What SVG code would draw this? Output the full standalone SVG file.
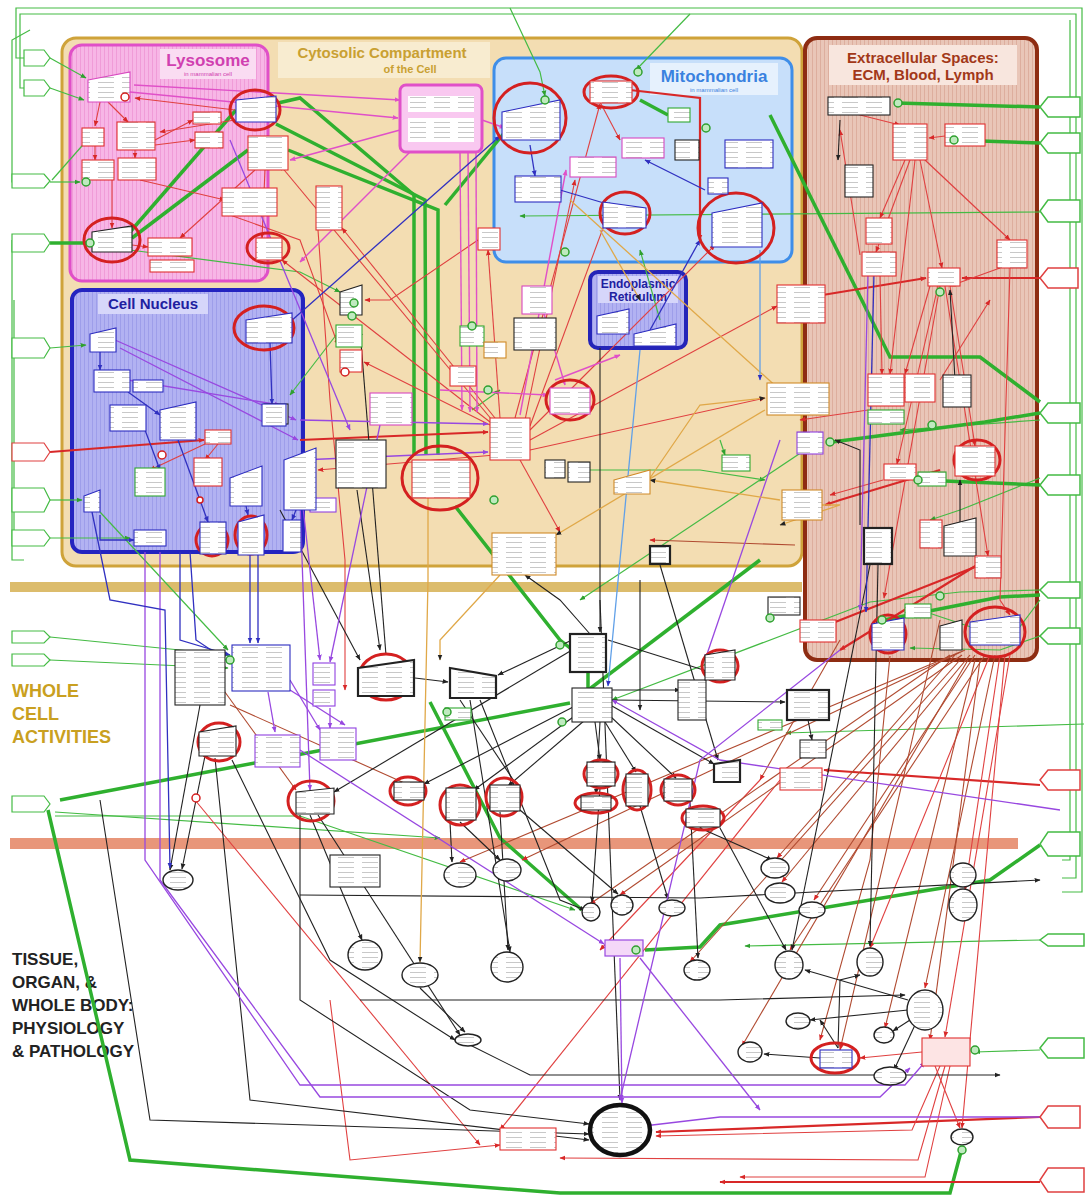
<svg xmlns="http://www.w3.org/2000/svg" width="1089" height="1203" viewBox="0 0 1089 1203">
<defs>
<style>
.t{font-family:"Liberation Sans",Arial,sans-serif;font-weight:bold}
.s{font-family:"Liberation Sans",Arial,sans-serif;font-size:6px}
.n{fill:url(#tx);stroke-width:1.1}
.nk{stroke:#222}.nr{stroke:#e03030}.nm{stroke:#d848c0}.nb{stroke:#2c2cc0}.ng{stroke:#30a830}.np{stroke:#9040e0}.no{stroke:#d08a28}.nl{stroke:#3a8ee8}
.th{stroke-width:2.2}
.hl{fill:none;stroke:#d42020;stroke-width:3}
.el{fill:url(#tx);stroke:#222;stroke-width:1.4}
.cn path{fill:none}
.G{stroke:#2fb02f;stroke-width:3.5}
.g{stroke:#44bb44;stroke-width:1.2;marker-end:url(#ag)}
.gb{stroke:#44bb44;stroke-width:1.2}
.R{stroke:#d82828;stroke-width:2.2;marker-end:url(#ar)}
.r{stroke:#e04040;stroke-width:1.1;marker-end:url(#ar)}
.d{stroke:#b04a30;stroke-width:1.1;marker-end:url(#ar)}
.m{stroke:#e050c8;stroke-width:1.4;marker-end:url(#am)}
.p{stroke:#9848e0;stroke-width:1.3;marker-end:url(#ap)}
.b{stroke:#3030c0;stroke-width:1.3;marker-end:url(#ab)}
.k{stroke:#222;stroke-width:1.1;marker-end:url(#ak)}
.o{stroke:#e0a848;stroke-width:1.3;marker-end:url(#ak)}
.lb{stroke:#60a0e8;stroke-width:1.3;marker-end:url(#ab)}
.gm{fill:#bfeabf;stroke:#2fa02f;stroke-width:1.5}
.rm{fill:#fff;stroke:#d42020;stroke-width:1.5}
</style>
<pattern id="tx" width="24" height="5" patternUnits="userSpaceOnUse"><rect width="24" height="5" fill="#fff"/><rect x="2" y="2" width="16" height="1" fill="#c8c8c8"/></pattern>
<pattern id="ly" width="4" height="10" patternUnits="userSpaceOnUse"><rect width="4" height="10" fill="#f7b6e6"/><rect width="1" height="10" fill="#f09cd8"/></pattern>
<pattern id="nu" width="4" height="10" patternUnits="userSpaceOnUse"><rect width="4" height="10" fill="#b2b2f2"/><rect width="1" height="10" fill="#9e9eea"/></pattern>
<pattern id="ec" width="4" height="10" patternUnits="userSpaceOnUse"><rect width="4" height="10" fill="#e9c6b8"/><rect width="1" height="10" fill="#ddae9e"/></pattern>
<marker id="ak" viewBox="0 0 10 10" refX="9" refY="5" markerWidth="6" markerHeight="6" markerUnits="userSpaceOnUse" orient="auto"><path d="M0,1L10,5L0,9z" fill="#222"/></marker>
<marker id="ar" viewBox="0 0 10 10" refX="9" refY="5" markerWidth="6" markerHeight="6" markerUnits="userSpaceOnUse" orient="auto"><path d="M0,1L10,5L0,9z" fill="#d82828"/></marker>
<marker id="ag" viewBox="0 0 10 10" refX="9" refY="5" markerWidth="6" markerHeight="6" markerUnits="userSpaceOnUse" orient="auto"><path d="M0,1L10,5L0,9z" fill="#2fa02f"/></marker>
<marker id="am" viewBox="0 0 10 10" refX="9" refY="5" markerWidth="6" markerHeight="6" markerUnits="userSpaceOnUse" orient="auto"><path d="M0,1L10,5L0,9z" fill="#e050c8"/></marker>
<marker id="ap" viewBox="0 0 10 10" refX="9" refY="5" markerWidth="6" markerHeight="6" markerUnits="userSpaceOnUse" orient="auto"><path d="M0,1L10,5L0,9z" fill="#9848e0"/></marker>
<marker id="ab" viewBox="0 0 10 10" refX="9" refY="5" markerWidth="6" markerHeight="6" markerUnits="userSpaceOnUse" orient="auto"><path d="M0,1L10,5L0,9z" fill="#3030c0"/></marker>
</defs>
<rect width="1089" height="1203" fill="#fff"/>

<!-- compartments -->
<g id="cytosol"><rect x="62" y="38" width="740" height="528" rx="14" fill="#f3ddb2" stroke="#cfa33a" stroke-width="3"/>
<rect x="278" y="42" width="212" height="36" fill="#f8ecd0"/>
<text class="t" x="382" y="58" font-size="15" fill="#c9a032" text-anchor="middle">Cytosolic  Compartment</text>
<text class="t" x="410" y="73" font-size="11" fill="#c9a032" text-anchor="middle">of the Cell</text></g>
<g id="lysosome"><rect x="70" y="45" width="198" height="236" rx="12" fill="url(#ly)" stroke="#e050c8" stroke-width="3"/>
<rect x="160" y="49" width="96" height="30" fill="#fadcf2"/>
<text class="t" x="208" y="66" font-size="17" fill="#d040b0" text-anchor="middle">Lysosome</text>
<text class="s" x="208" y="76" fill="#d040b0" text-anchor="middle">in mammalian cell</text></g>
<g id="mito"><rect x="494" y="58" width="298" height="204" rx="12" fill="#c7dffa" stroke="#3f8ee8" stroke-width="3"/>
<rect x="650" y="63" width="128" height="32" fill="#e6f1fd"/>
<text class="t" x="714" y="82" font-size="17" fill="#3a82e0" text-anchor="middle">Mitochondria</text>
<text class="s" x="714" y="92" fill="#3a82e0" text-anchor="middle">in mammalian cell</text></g>
<g id="nucleus"><rect x="72" y="290" width="231" height="262" rx="10" fill="url(#nu)" stroke="#2424c0" stroke-width="4"/>
<rect x="98" y="294" width="110" height="20" fill="#d6d6fa"/>
<text class="t" x="153" y="309" font-size="15" fill="#2020a0" text-anchor="middle">Cell Nucleus</text></g>
<g id="er"><rect x="590" y="272" width="96" height="76" rx="8" fill="url(#nu)" stroke="#2424b8" stroke-width="4"/>
<rect x="598" y="276" width="80" height="27" fill="#d6d6fa"/>
<text class="t" x="638" y="288" font-size="12" fill="#2020a0" text-anchor="middle">Endoplasmic</text>
<text class="t" x="638" y="301" font-size="12" fill="#2020a0" text-anchor="middle">Reticulum</text></g>
<g id="ecm"><rect x="805" y="38" width="232" height="622" rx="12" fill="url(#ec)" stroke="#8e2c12" stroke-width="4"/>
<rect x="829" y="45" width="188" height="40" fill="#f8e6de"/>
<text class="t" x="923" y="63" font-size="15" fill="#a23818" text-anchor="middle">Extracellular Spaces:</text>
<text class="t" x="923" y="80" font-size="15" fill="#a23818" text-anchor="middle">ECM, Blood, Lymph</text></g>

<rect x="10" y="582" width="792" height="10" fill="#dcbc6c"/>
<rect x="10" y="838" width="1008" height="11" fill="#e8967a"/>
<text class="t" font-size="18" fill="#c9a020"><tspan x="12" y="697">WHOLE</tspan><tspan x="12" y="720">CELL</tspan><tspan x="12" y="743">ACTIVITIES</tspan></text>
<text class="t" font-size="17" fill="#222"><tspan x="12" y="965">TISSUE,</tspan><tspan x="12" y="988">ORGAN, &amp;</tspan><tspan x="12" y="1011">WHOLE BODY:</tspan><tspan x="12" y="1034">PHYSIOLOGY</tspan><tspan x="12" y="1057">&amp; PATHOLOGY</tspan></text>

<!-- connectors -->
<g id="connectors" class="cn">
<path class="gb" d="M24,58 L16,58 L16,8 L1082,8 L1082,892 L1062,892"/>
<path class="gb" d="M24,88 L20,88 L20,14 L1076,14 L1076,878 L1062,878"/>
<path class="gb" d="M1070,20 L1070,860 L1062,860"/>
<path class="gb" d="M24,182 L12,182 L12,40 L30,30"/>
<path class="gb" d="M12,240 L12,560 L24,560"/>
<path class="gb" d="M14,300 L14,530"/>
<path class="g" d="M50,58 L86,78"/>
<path class="g" d="M50,88 L84,100"/>
<path class="g" d="M50,182 L80,182"/>
<path class="g" d="M52,180 L96,130"/>
<path class="g" d="M50,348 L86,345"/>
<path class="g" d="M50,500 L82,500"/>
<path class="g" d="M50,538 L130,538"/>
<path class="g" d="M50,637 L230,655"/>
<path class="g" d="M50,660 L228,668"/>
<path class="g" d="M510,8 L540,72 L545,96"/>
<path class="g" d="M690,14 L636,70"/>
<path class="g" d="M1040,212 L520,216"/>
<path class="g" d="M1084,724 L786,733"/>
<path class="g" d="M1040,940 L745,946"/>
<path class="g" d="M1040,636 L1000,650 L910,648"/>
<path class="g" d="M1040,590 L960,592 L870,602 L612,700"/>
<path class="g" d="M55,812 L440,838"/>
<path class="g" d="M55,816 L300,816 L575,910"/>
<path class="g" d="M100,512 L228,650"/>
<path class="g" d="M130,250 L300,272 L340,292"/>
<path class="g" d="M580,470 L700,470 L765,480"/>
<path class="g" d="M1040,420 L900,430"/>
<path class="g" d="M1040,478 L960,510 L930,520"/>
<path class="g" d="M1040,600 L1010,640 L920,610"/>
<path class="g" d="M660,320 L640,250"/>
<path class="g" d="M472,410 L500,390"/>
<path class="g" d="M340,330 L290,395"/>
<path class="g" d="M1040,1050 L975,1052"/>
<path class="g" d="M720,440 L725,455"/>
<path class="g" d="M820,440 L580,600"/>

<path class="G" d="M50,243 L88,243"/>
<path class="G" d="M130,232 L236,110"/>
<path class="G" d="M132,238 L248,150"/>
<path class="G" d="M278,103 L300,98 L414,195 L414,455"/>
<path class="G" d="M276,124 L425,200 L426,455"/>
<path class="G" d="M288,150 L438,210 L438,455"/>
<path class="G" d="M445,205 L505,132"/>
<path class="G" d="M455,506 L560,640 L570,648"/>
<path class="G" d="M60,800 L570,703"/>
<path class="G" d="M48,810 L130,1160 L560,1193 L950,1193 L962,1148"/>
<path class="G" d="M770,115 L890,357 L980,357 L1040,402"/>
<path class="G" d="M1040,107 L897,103"/>
<path class="G" d="M1040,143 L952,140"/>
<path class="G" d="M1040,413 L985,422 L832,442"/>
<path class="G" d="M1040,485 L920,480"/>
<path class="G" d="M1040,845 L990,880 L720,925 L700,947 L645,950"/>
<path class="G" d="M430,702 L500,838 L582,910"/>
<path class="G" d="M588,672 L588,688"/>
<path class="G" d="M760,560 L575,700"/>
<path class="G" d="M668,115 L640,100"/>
<path class="G" d="M1040,595 L1000,597 L884,620"/>

<path class="R" d="M780,302 L926,278"/>
<path class="R" d="M1040,278 L962,278"/>
<path class="R" d="M50,452 L204,440"/>
<path class="R" d="M300,440 L488,432"/>
<path class="R" d="M1040,785 L824,770"/>
<path class="R" d="M1040,1117 L656,1132"/>
<path class="R" d="M1040,1182 L720,1182"/>
<path class="R" d="M630,90 L700,98 L700,240"/>
<path class="R" d="M940,470 L840,500 L825,505"/>
<path class="R" d="M980,565 L820,628"/>
<path class="R" d="M985,560 L840,650"/>

<path class="r" d="M490,425 L364,362"/>
<path class="r" d="M490,422 L282,260"/>
<path class="r" d="M492,420 L280,165"/>
<path class="r" d="M495,418 L342,228"/>
<path class="r" d="M500,418 L488,250"/>
<path class="r" d="M515,418 L600,104"/>
<path class="r" d="M525,420 L575,180"/>
<path class="r" d="M530,430 L715,245"/>
<path class="r" d="M530,440 L777,306"/>
<path class="r" d="M530,450 L765,398"/>
<path class="r" d="M520,460 L560,532"/>
<path class="r" d="M495,455 L318,470"/>
<path class="r" d="M530,426 L606,220"/>
<path class="r" d="M478,240 L390,300 L365,300"/>
<path class="r" d="M318,230 L330,400 L345,560 L345,690"/>
<path class="r" d="M235,110 L135,98"/>
<path class="r" d="M235,120 L160,132"/>
<path class="r" d="M100,102 L95,126"/>
<path class="r" d="M108,102 L128,122"/>
<path class="r" d="M95,146 L95,160"/>
<path class="r" d="M135,150 L135,158"/>
<path class="r" d="M155,140 L193,120"/>
<path class="r" d="M155,145 L195,140"/>
<path class="r" d="M140,180 L225,200"/>
<path class="r" d="M112,180 L112,228"/>
<path class="r" d="M265,170 L262,238"/>
<path class="r" d="M255,170 L180,238"/>
<path class="r" d="M132,245 L148,247"/>
<path class="r" d="M230,215 L300,240 L338,345"/>
<path class="r" d="M205,444 L150,470"/>
<path class="r" d="M218,444 L205,460"/>
<path class="r" d="M600,102 L620,140"/>
<path class="r" d="M940,286 L884,598"/>
<path class="r" d="M945,286 L988,556"/>
<path class="r" d="M938,286 L897,464"/>
<path class="r" d="M950,286 L975,446"/>
<path class="r" d="M905,160 L880,218"/>
<path class="r" d="M910,160 L876,252"/>
<path class="r" d="M915,160 L890,374"/>
<path class="r" d="M920,160 L942,268"/>
<path class="r" d="M925,160 L1010,240"/>
<path class="r" d="M945,136 L929,138"/>
<path class="r" d="M880,276 L882,374"/>
<path class="r" d="M1000,268 L950,286"/>
<path class="r" d="M930,286 L905,374"/>
<path class="r" d="M1010,268 L1000,600 L1010,615"/>
<path class="r" d="M840,110 L900,125"/>
<path class="r" d="M860,255 L840,130"/>
<path class="r" d="M868,410 L800,420"/>
<path class="r" d="M940,380 L990,300"/>
<path class="r" d="M883,480 L830,495"/>
<path class="r" d="M195,800 L480,1145"/>
<path class="r" d="M990,655 L870,948"/>
<path class="r" d="M1000,655 L965,890"/>
<path class="r" d="M1005,655 L962,1128"/>
<path class="r" d="M1010,655 L945,1037"/>
<path class="r" d="M940,1066 L912,1130 L656,1136"/>
<path class="r" d="M945,1066 L918,1160 L560,1158"/>
<path class="r" d="M950,1066 L925,1177 L740,1177"/>
<path class="r" d="M922,1052 L860,1058"/>
<path class="r" d="M935,1066 L960,1128"/>
<path class="r" d="M330,1000 L350,1160 L500,1145"/>
<path class="r" d="M780,780 L500,1130"/>
<path class="r" d="M760,780 L600,950"/>

<path class="d" d="M985,655 L790,950"/>
<path class="d" d="M995,655 L925,988"/>
<path class="d" d="M975,655 L814,900"/>
<path class="d" d="M970,655 L782,882"/>
<path class="d" d="M965,650 L522,860"/>
<path class="d" d="M960,652 L460,862"/>
<path class="d" d="M955,655 L777,858"/>
<path class="d" d="M968,660 L742,1046"/>
<path class="d" d="M975,660 L885,1028"/>
<path class="d" d="M980,660 L930,1040"/>
<path class="d" d="M950,655 L590,904"/>
<path class="d" d="M962,655 L620,895"/>
<path class="d" d="M960,660 L690,962"/>
<path class="d" d="M940,620 L840,1050"/>
<path class="d" d="M840,640 L760,780"/>
<path class="d" d="M890,656 L870,860 L820,1040"/>
<path class="d" d="M795,545 L650,540"/>
<path class="d" d="M230,705 L420,790"/>
<path class="d" d="M222,688 L296,790"/>

<path class="k" d="M600,348 L600,632"/>
<path class="k" d="M575,706 L424,784"/>
<path class="k" d="M580,712 L474,790"/>
<path class="k" d="M585,720 L508,786"/>
<path class="k" d="M595,722 L600,760"/>
<path class="k" d="M600,722 L596,794"/>
<path class="k" d="M605,722 L636,772"/>
<path class="k" d="M610,716 L676,778"/>
<path class="k" d="M612,706 L714,764"/>
<path class="k" d="M612,700 L785,702"/>
<path class="k" d="M572,650 L334,792"/>
<path class="k" d="M572,640 L498,675"/>
<path class="k" d="M608,640 L710,672"/>
<path class="k" d="M590,634 L560,600 L525,575"/>
<path class="k" d="M415,678 L448,682"/>
<path class="k" d="M480,700 L560,900 L585,910"/>
<path class="k" d="M470,700 L510,952"/>
<path class="k" d="M460,700 L520,790"/>
<path class="k" d="M310,815 L362,940"/>
<path class="k" d="M318,815 L460,1035"/>
<path class="k" d="M300,815 L300,1000 L470,1110 L589,1124"/>
<path class="k" d="M232,760 L330,960 L455,1040"/>
<path class="k" d="M205,756 L182,869"/>
<path class="k" d="M215,758 L250,1100 L589,1140"/>
<path class="k" d="M200,705 L170,870"/>
<path class="k" d="M450,822 L452,862"/>
<path class="k" d="M460,822 L500,860"/>
<path class="k" d="M500,812 L508,950"/>
<path class="k" d="M520,810 L618,894"/>
<path class="k" d="M600,788 L592,902"/>
<path class="k" d="M640,806 L668,899"/>
<path class="k" d="M690,802 L698,958"/>
<path class="k" d="M700,828 L772,860"/>
<path class="k" d="M720,828 L786,950"/>
<path class="k" d="M878,565 L870,946"/>
<path class="k" d="M870,565 L792,950"/>
<path class="k" d="M660,565 L718,760"/>
<path class="k" d="M808,720 L812,740"/>
<path class="k" d="M300,895 L700,898 L1040,880"/>
<path class="k" d="M360,1000 L720,1000 L905,995"/>
<path class="k" d="M820,1058 L764,1054"/>
<path class="k" d="M908,1010 L810,1020"/>
<path class="k" d="M908,1000 L805,970"/>
<path class="k" d="M915,1025 L894,1070"/>
<path class="k" d="M910,1020 L893,1031"/>
<path class="k" d="M838,1048 L840,980 L860,975"/>
<path class="k" d="M838,1048 L820,1020"/>
<path class="k" d="M420,988 L465,1032"/>
<path class="k" d="M470,1045 L530,1075 L1000,1075"/>
<path class="k" d="M100,800 L150,1120 L589,1134"/>
<path class="k" d="M386,655 L360,330"/>
<path class="k" d="M357,490 L380,650"/>
<path class="k" d="M280,510 L360,660"/>
<path class="k" d="M860,525 L860,450 L835,440"/>
<path class="k" d="M960,555 L960,480"/>
<path class="k" d="M955,380 L950,290"/>
<path class="k" d="M840,120 L838,160"/>
<path class="k" d="M600,600 L620,1100"/>
<path class="k" d="M640,580 L640,710"/>
<path class="k" d="M612,690 L680,690"/>

<path class="p" d="M115,340 L296,420"/>
<path class="p" d="M120,348 L298,440"/>
<path class="p" d="M128,380 L280,405"/>
<path class="p" d="M300,420 L488,424"/>
<path class="p" d="M300,460 L488,452"/>
<path class="p" d="M145,552 L145,860 L300,1085 L905,1085 L925,1062"/>
<path class="p" d="M160,552 L160,880 L320,1097 L880,1097 L910,1068"/>
<path class="p" d="M1040,1117 L720,1117 L610,1130"/>
<path class="p" d="M300,750 L604,944"/>
<path class="p" d="M380,425 L330,662"/>
<path class="p" d="M300,480 L320,660"/>
<path class="p" d="M868,272 L860,610"/>
<path class="p" d="M290,690 L345,725"/>
<path class="p" d="M290,680 L320,730"/>
<path class="p" d="M268,692 L275,732"/>
<path class="p" d="M330,708 L330,728"/>
<path class="p" d="M620,958 L622,1103"/>
<path class="p" d="M640,958 L760,1110"/>
<path class="p" d="M840,650 L700,760 L620,1100"/>
<path class="p" d="M1060,810 L720,760 L612,700"/>
<path class="p" d="M230,140 L350,430"/>
<path class="p" d="M300,500 L310,790"/>
<path class="p" d="M780,440 L705,660"/>

<path class="m" d="M134,85 L400,100"/>
<path class="m" d="M130,92 L398,118"/>
<path class="m" d="M460,152 L462,410"/>
<path class="m" d="M468,152 L470,412"/>
<path class="m" d="M476,152 L477,412"/>
<path class="m" d="M400,130 L290,160"/>
<path class="m" d="M482,120 L505,128"/>
<path class="m" d="M520,415 L566,170"/>
<path class="m" d="M410,152 L300,262"/>
<path class="m" d="M612,168 L570,168"/>
<path class="m" d="M540,300 L565,385"/>
<path class="m" d="M440,390 L548,395"/>
<path class="m" d="M555,380 L620,355"/>

<path class="b" d="M290,322 L500,136"/>
<path class="b" d="M180,552 L180,640 L230,655"/>
<path class="b" d="M190,552 L196,640 L232,664"/>
<path class="b" d="M250,555 L250,643"/>
<path class="b" d="M258,555 L258,643"/>
<path class="b" d="M92,512 L110,600 L165,610 L170,868"/>
<path class="b" d="M100,515 L100,540 L134,540"/>
<path class="b" d="M874,272 L866,612"/>
<path class="b" d="M128,392 L160,415"/>
<path class="b" d="M145,430 L160,470"/>
<path class="b" d="M178,440 L208,522"/>
<path class="b" d="M246,506 L248,515"/>
<path class="b" d="M296,510 L292,520"/>
<path class="b" d="M100,352 L100,370"/>
<path class="b" d="M270,343 L272,404"/>
<path class="b" d="M560,190 L614,206"/>
<path class="b" d="M650,330 L700,240"/>
<path class="b" d="M705,190 L645,160"/>
<path class="b" d="M530,145 L535,176"/>

<path class="o" d="M428,480 L428,580 L420,962"/>
<path class="o" d="M650,478 L700,405 L765,398"/>
<path class="o" d="M765,410 L556,535"/>
<path class="o" d="M780,500 L650,480"/>
<path class="o" d="M500,575 L440,640 L440,660"/>
<path class="o" d="M808,505 L840,505 L780,525"/>
<path class="o" d="M600,230 L640,300"/>
<path class="o" d="M570,200 L780,390"/>

<path class="lb" d="M640,350 L608,686"/>
<path class="lb" d="M760,250 L760,380"/>
</g>

<!-- highlight rings -->
<g id="highlights">
<ellipse class="hl" cx="255" cy="110" rx="25" ry="20"/>
<ellipse class="hl" cx="112" cy="240" rx="28" ry="22"/>
<ellipse class="hl" cx="268" cy="248" rx="21" ry="15"/>
<ellipse class="hl" cx="530" cy="118" rx="36" ry="35"/>
<ellipse class="hl" cx="611" cy="92" rx="27" ry="16"/>
<ellipse class="hl" cx="625" cy="213" rx="25" ry="21"/>
<ellipse class="hl" cx="736" cy="228" rx="38" ry="35"/>
<ellipse class="hl" cx="264" cy="328" rx="30" ry="22"/>
<ellipse class="hl" cx="570" cy="400" rx="24" ry="20"/>
<ellipse class="hl" cx="440" cy="478" rx="38" ry="32"/>
<ellipse class="hl" cx="977" cy="460" rx="23" ry="20"/>
<ellipse class="hl" cx="212" cy="540" rx="16" ry="16"/>
<ellipse class="hl" cx="251" cy="535" rx="16" ry="19"/>
<ellipse class="hl" cx="888" cy="634" rx="18" ry="19"/>
<ellipse class="hl" cx="995" cy="632" rx="30" ry="25"/>
<ellipse class="hl" cx="386" cy="677" rx="27" ry="23"/>
<ellipse class="hl" cx="720" cy="666" rx="18" ry="16"/>
<ellipse class="hl" cx="219" cy="742" rx="21" ry="19"/>
<ellipse class="hl" cx="311" cy="801" rx="23" ry="20"/>
<ellipse class="hl" cx="408" cy="791" rx="18" ry="14"/>
<ellipse class="hl" cx="460" cy="805" rx="20" ry="20"/>
<ellipse class="hl" cx="504" cy="797" rx="18" ry="19"/>
<ellipse class="hl" cx="601" cy="774" rx="17" ry="14"/>
<ellipse class="hl" cx="596" cy="803" rx="21" ry="10"/>
<ellipse class="hl" cx="637" cy="790" rx="14" ry="20"/>
<ellipse class="hl" cx="678" cy="790" rx="17" ry="15"/>
<ellipse class="hl" cx="703" cy="818" rx="21" ry="12"/>
<ellipse class="hl" cx="835" cy="1058" rx="24" ry="15"/>
</g>

<!-- lysosome nodes -->
<g id="L1"><path class="n nm" d="M88,80 L130,72 L130,102 L88,102z"/></g>
<g id="L2"><rect class="n nr" x="82" y="128" width="22" height="18"/></g>
<g id="L3"><rect class="n nr" x="117" y="122" width="38" height="28"/></g>
<g id="L4"><rect class="n nr" x="193" y="112" width="28" height="12"/></g>
<g id="L5"><rect class="n nr" x="195" y="132" width="28" height="16"/></g>
<g id="L6"><rect class="n nr" x="82" y="160" width="32" height="20"/></g>
<g id="L7"><rect class="n nr" x="118" y="158" width="38" height="22"/></g>
<g id="L8"><rect class="n nr" x="222" y="188" width="55" height="28"/></g>
<g id="L9"><path class="n nb" d="M236,100 L276,96 L276,122 L236,122z"/></g>
<g id="L10"><rect class="n nr" x="248" y="136" width="40" height="34"/></g>
<g id="L11"><path class="n nk" d="M92,232 L132,226 L132,252 L92,252z"/></g>
<g id="L12"><rect class="n nr" x="148" y="238" width="44" height="18"/></g>
<g id="L13"><rect class="n nr" x="150" y="260" width="44" height="12"/></g>
<g id="L14"><rect class="n nr" x="256" y="238" width="26" height="22"/></g>

<!-- cytosol nodes -->
<g id="C1"><rect x="400" y="85" width="82" height="67" rx="6" fill="#f9c8f0" stroke="#e050c8" stroke-width="3"/><rect x="408" y="96" width="66" height="16" fill="url(#tx)"/><rect x="408" y="118" width="66" height="24" fill="url(#tx)"/></g>
<g id="C2"><rect class="n nr" x="316" y="186" width="26" height="44"/></g>
<g id="C3"><rect class="n nr" x="478" y="228" width="22" height="22"/></g>
<g id="C4"><path class="n nk" d="M340,292 L362,285 L362,315 L340,315z"/></g>
<g id="C5"><rect class="n ng" x="336" y="325" width="26" height="22"/></g>
<g id="C6"><rect class="n nr" x="340" y="350" width="22" height="22"/></g>
<g id="C7"><rect class="n nm" x="370" y="393" width="42" height="32"/></g>
<g id="C8"><rect class="n nk" x="264" y="404" width="24" height="20"/></g>
<g id="C9"><rect class="n nk" x="336" y="440" width="50" height="48"/></g>
<g id="C10"><rect class="n nr" x="490" y="418" width="40" height="42"/></g>
<g id="C11"><rect class="n nm" x="522" y="286" width="30" height="28"/></g>
<g id="C12"><rect class="n nk" x="514" y="318" width="42" height="32"/></g>
<g id="C13"><rect class="n nr" x="450" y="366" width="26" height="20"/></g>
<g id="C14"><rect class="n nk" x="545" y="460" width="20" height="18"/></g>
<g id="C15"><rect class="n nk" x="568" y="462" width="22" height="20"/></g>
<g id="C16"><path class="n no" d="M614,480 L650,470 L650,494 L614,494z"/></g>
<g id="C17"><rect class="n no" x="492" y="533" width="64" height="42"/></g>
<g id="C18"><rect class="n nk th" x="650" y="546" width="20" height="18"/></g>
<g id="C19"><rect class="n ng" x="722" y="455" width="28" height="16"/></g>
<g id="C20"><rect class="n no" x="767" y="383" width="62" height="32"/></g>
<g id="C21"><rect class="n no" x="782" y="490" width="40" height="30"/></g>
<g id="C22"><rect class="n np" x="797" y="432" width="26" height="22"/></g>
<g id="C23"><rect class="n nr" x="412" y="460" width="58" height="38"/></g>
<g id="C24"><rect class="n nm" x="550" y="388" width="40" height="26"/></g>
<g id="C25"><rect class="n ng" x="460" y="326" width="24" height="20"/></g>
<g id="C26"><rect class="n no" x="484" y="342" width="22" height="16"/></g>
<g id="C27"><rect class="n np" x="310" y="498" width="26" height="14"/></g>

<!-- mitochondria nodes -->
<g id="M1"><path class="n nb" d="M502,112 L560,100 L560,140 L502,140z"/></g>
<g id="M2"><rect class="n nr" x="590" y="81" width="42" height="22"/></g>
<g id="M3"><rect class="n ng" x="668" y="108" width="22" height="14"/></g>
<g id="M4"><rect class="n nb" x="515" y="176" width="46" height="26"/></g>
<g id="M5"><rect class="n nm" x="570" y="157" width="46" height="20"/></g>
<g id="M6"><rect class="n nm" x="622" y="138" width="42" height="20"/></g>
<g id="M7"><rect class="n nk" x="675" y="140" width="24" height="20"/></g>
<g id="M8"><rect class="n nb" x="725" y="140" width="48" height="28"/></g>
<g id="M9"><rect class="n nb" x="708" y="178" width="20" height="16"/></g>
<g id="M10"><path class="n nb" d="M603,202 L646,208 L646,228 L603,228z"/></g>
<g id="M11"><path class="n nb" d="M712,213 L762,203 L762,247 L712,247z"/></g>

<!-- ER nodes -->
<g id="E1"><path class="n nb" d="M597,316 L629,309 L629,334 L597,334z"/></g>
<g id="E2"><path class="n nb" d="M634,334 L676,324 L676,346 L634,346z"/></g>

<!-- nucleus nodes -->
<g id="N1"><path class="n nb" d="M90,334 L116,328 L116,352 L90,352z"/></g>
<g id="N2"><rect class="n nb" x="94" y="370" width="36" height="22"/></g>
<g id="N3"><rect class="n nb" x="110" y="405" width="36" height="26"/></g>
<g id="N4"><path class="n nb" d="M160,410 L196,402 L196,440 L160,440z"/></g>
<g id="N5"><rect class="n nr" x="205" y="430" width="26" height="14"/></g>
<g id="N6"><rect class="n ng" x="135" y="468" width="30" height="28"/></g>
<g id="N7"><rect class="n nr" x="194" y="458" width="28" height="28"/></g>
<g id="N8"><path class="n nb" d="M230,478 L262,466 L262,506 L230,506z"/></g>
<g id="N9"><path class="n nb" d="M284,460 L316,448 L316,510 L284,510z"/></g>
<g id="N10"><path class="n nb" d="M84,496 L100,490 L100,512 L84,512z"/></g>
<g id="N11"><rect class="n nb" x="134" y="530" width="32" height="16"/></g>
<g id="N12"><rect class="n nb" x="200" y="522" width="26" height="32"/></g>
<g id="N13"><path class="n nb" d="M238,522 L264,515 L264,555 L238,555z"/></g>
<g id="N14"><rect class="n nb" x="283" y="520" width="18" height="32"/></g>
<g id="N15"><path class="n nb" d="M246,320 L292,313 L292,343 L246,343z"/></g>
<g id="N16"><rect class="n nb" x="262" y="404" width="24" height="22"/></g>
<g id="N17"><rect class="n nb" x="133" y="380" width="30" height="12"/></g>

<!-- extracellular nodes -->
<g id="X1"><rect class="n nk" x="828" y="97" width="62" height="18"/></g>
<g id="X2"><rect class="n nr" x="893" y="124" width="34" height="36"/></g>
<g id="X3"><rect class="n nr" x="945" y="124" width="40" height="22"/></g>
<g id="X4"><rect class="n nk" x="845" y="165" width="28" height="32"/></g>
<g id="X5"><rect class="n nr" x="866" y="218" width="26" height="26"/></g>
<g id="X6"><rect class="n nr" x="862" y="252" width="34" height="24"/></g>
<g id="X7"><rect class="n nr" x="928" y="268" width="32" height="18"/></g>
<g id="X8"><rect class="n nr" x="997" y="240" width="30" height="28"/></g>
<g id="X9"><rect class="n nr" x="777" y="285" width="48" height="38"/></g>
<g id="X10"><rect class="n nr" x="868" y="374" width="36" height="32"/></g>
<g id="X11"><rect class="n nr" x="905" y="374" width="30" height="28"/></g>
<g id="X12"><rect class="n nk" x="943" y="375" width="28" height="32"/></g>
<g id="X13"><rect class="n ng" x="868" y="410" width="36" height="14"/></g>
<g id="X14"><rect class="n nr" x="884" y="464" width="32" height="16"/></g>
<g id="X15"><rect class="n nr" x="955" y="446" width="40" height="30"/></g>
<g id="X16"><rect class="n ng" x="918" y="472" width="28" height="14"/></g>
<g id="X17"><rect class="n nk th" x="864" y="528" width="28" height="36"/></g>
<g id="X18"><path class="n nk" d="M944,526 L976,518 L976,556 L944,556z"/></g>
<g id="X19"><rect class="n nr" x="975" y="556" width="26" height="22"/></g>
<g id="X20"><rect class="n nr" x="920" y="520" width="22" height="28"/></g>
<g id="X21"><rect class="n nk" x="768" y="597" width="32" height="18"/></g>
<g id="X22"><rect class="n nr" x="800" y="620" width="36" height="22"/></g>
<g id="X23"><rect class="n ng" x="905" y="604" width="26" height="14"/></g>
<g id="X24"><path class="n nb" d="M872,624 L904,618 L904,650 L872,650z"/></g>
<g id="X25"><path class="n nk" d="M940,626 L962,620 L962,650 L940,650z"/></g>
<g id="X26"><path class="n nb" d="M970,622 L1020,615 L1020,645 L970,645z"/></g>

<!-- whole cell nodes -->
<g id="W1"><rect class="n nk" x="175" y="650" width="50" height="55"/></g>
<g id="W2"><rect class="n nb" x="232" y="645" width="58" height="46"/></g>
<g id="W3"><path class="n nk th" d="M358,668 L414,660 L414,696 L358,696z"/></g>
<g id="W4"><path class="n nk th" d="M450,668 L496,676 L496,698 L450,698z"/></g>
<g id="W5"><rect class="n nk th" x="570" y="634" width="36" height="38"/></g>
<g id="W6"><rect class="n nk" x="572" y="688" width="40" height="34"/></g>
<g id="W7"><rect class="n nk" x="678" y="680" width="28" height="40"/></g>
<g id="W8"><path class="n nk" d="M705,655 L735,650 L735,680 L705,680z"/></g>
<g id="W9"><rect class="n np" x="313" y="663" width="22" height="22"/></g>
<g id="W10"><rect class="n np" x="313" y="690" width="22" height="16"/></g>
<g id="W11"><rect class="n np" x="255" y="735" width="45" height="32"/></g>
<g id="W12"><rect class="n np" x="320" y="728" width="36" height="32"/></g>
<g id="W13"><path class="n nk" d="M199,732 L236,726 L236,756 L199,756z"/></g>
<g id="W14"><rect class="n ng" x="445" y="708" width="26" height="12"/></g>
<g id="W15"><path class="n nk" d="M296,792 L334,788 L334,814 L296,814z"/></g>
<g id="W16"><rect class="n nk" x="394" y="782" width="30" height="18"/></g>
<g id="W17"><rect class="n nk" x="446" y="788" width="30" height="32"/></g>
<g id="W18"><rect class="n nk" x="490" y="785" width="30" height="26"/></g>
<g id="W19"><rect class="n nk" x="587" y="762" width="28" height="24"/></g>
<g id="W20"><rect class="n nk" x="581" y="796" width="30" height="14"/></g>
<g id="W21"><rect class="n nk" x="626" y="774" width="22" height="32"/></g>
<g id="W22"><rect class="n nk" x="664" y="779" width="28" height="22"/></g>
<g id="W23"><rect class="n nk" x="686" y="809" width="34" height="18"/></g>
<g id="W24"><path class="n nk th" d="M714,764 L740,760 L740,782 L714,782z"/></g>
<g id="W25"><rect class="n ng" x="758" y="720" width="24" height="10"/></g>
<g id="W26"><rect class="n nk th" x="787" y="690" width="42" height="30"/></g>
<g id="W27"><rect class="n nr" x="780" y="768" width="42" height="22"/></g>
<g id="W28"><rect class="n nk" x="800" y="740" width="26" height="18"/></g>
<g id="W29"><rect class="n nk" x="330" y="855" width="50" height="32"/></g>

<!-- tissue nodes -->
<g id="T1"><ellipse class="el" cx="178" cy="880" rx="15" ry="10"/></g>
<g id="T2"><ellipse class="el" cx="365" cy="955" rx="17" ry="15"/></g>
<g id="T3"><ellipse class="el" cx="420" cy="975" rx="18" ry="12"/></g>
<g id="T4"><ellipse class="el" cx="468" cy="1040" rx="13" ry="6"/></g>
<g id="T5"><ellipse class="el" cx="460" cy="875" rx="16" ry="12"/></g>
<g id="T6"><ellipse class="el" cx="507" cy="870" rx="14" ry="11"/></g>
<g id="T7"><ellipse class="el" cx="507" cy="967" rx="16" ry="15"/></g>
<g id="T8"><ellipse class="el" cx="591" cy="912" rx="9" ry="9"/></g>
<g id="T9"><ellipse class="el" cx="622" cy="905" rx="11" ry="10"/></g>
<g id="T10"><ellipse class="el" cx="672" cy="908" rx="13" ry="8"/></g>
<g id="T11"><ellipse class="el" cx="697" cy="970" rx="13" ry="10"/></g>
<g id="T12"><ellipse class="el" cx="775" cy="868" rx="14" ry="10"/></g>
<g id="T13"><ellipse class="el" cx="780" cy="893" rx="15" ry="10"/></g>
<g id="T14"><ellipse class="el" cx="812" cy="910" rx="13" ry="8"/></g>
<g id="T15"><ellipse class="el" cx="963" cy="875" rx="13" ry="12"/></g>
<g id="T16"><ellipse class="el" cx="963" cy="905" rx="14" ry="16"/></g>
<g id="T17"><ellipse class="el" cx="789" cy="965" rx="14" ry="14"/></g>
<g id="T18"><ellipse class="el" cx="870" cy="962" rx="13" ry="14"/></g>
<g id="T19"><ellipse class="el" cx="925" cy="1010" rx="18" ry="20"/></g>
<g id="T20"><ellipse class="el" cx="798" cy="1021" rx="12" ry="8"/></g>
<g id="T21"><ellipse class="el" cx="884" cy="1035" rx="10" ry="8"/></g>
<g id="T22"><ellipse class="el" cx="750" cy="1052" rx="12" ry="10"/></g>
<g id="T23"><ellipse class="el" cx="890" cy="1076" rx="16" ry="9"/></g>
<g id="T24"><ellipse class="el" cx="962" cy="1137" rx="11" ry="8"/></g>
<g id="TB1"><rect x="605" y="940" width="38" height="16" fill="#f4d8f8" stroke="#9848e0" stroke-width="1.2"/></g>
<g id="TB2"><rect class="n nr" x="922" y="1038" width="48" height="28" style="fill:#fde4e4"/></g>
<g id="TB3"><rect class="n nr" x="500" y="1128" width="56" height="22"/></g>
<g id="TB4"><rect class="n nb" x="820" y="1050" width="32" height="18"/></g>
<g id="BIG"><ellipse cx="620" cy="1130" rx="30" ry="25" fill="url(#tx)" stroke="#111" stroke-width="4.5"/></g>

<!-- input tags -->
<g id="tagsL" stroke-width="1.2">
<path d="M24,50 h20 l6,8 l-6,8 h-20z" fill="#fff" stroke="#44bb44"/>
<path d="M24,80 h20 l6,8 l-6,8 h-20z" fill="#fff" stroke="#44bb44"/>
<path d="M12,174 h32 l6,7 l-6,7 h-32z" fill="#fff" stroke="#44bb44"/>
<path d="M12,234 h32 l6,9 l-6,9 h-32z" fill="#fff" stroke="#44bb44"/>
<path d="M12,338 h32 l6,10 l-6,10 h-32z" fill="#fff" stroke="#44bb44"/>
<path d="M12,443 h32 l6,9 l-6,9 h-32z" fill="#fff" stroke="#e04040"/>
<path d="M12,488 h32 l6,12 l-6,12 h-32z" fill="#fff" stroke="#44bb44"/>
<path d="M12,530 h32 l6,8 l-6,8 h-32z" fill="#fff" stroke="#44bb44"/>
<path d="M12,631 h32 l6,6 l-6,6 h-32z" fill="#fff" stroke="#44bb44"/>
<path d="M12,654 h32 l6,6 l-6,6 h-32z" fill="#fff" stroke="#44bb44"/>
<path d="M12,796 h32 l6,8 l-6,8 h-32z" fill="#fff" stroke="#44bb44"/>
</g>
<g id="tagsR" stroke-width="1.5">
<path d="M1048,97 h32 v20 h-32 l-8,-10z" fill="#fff" stroke="#44bb44"/>
<path d="M1048,133 h32 v20 h-32 l-8,-10z" fill="#fff" stroke="#44bb44"/>
<path d="M1048,200 h32 v22 h-32 l-8,-11z" fill="#fff" stroke="#44bb44"/>
<path d="M1048,268 h30 v20 h-30 l-8,-10z" fill="#fff" stroke="#e04040"/>
<path d="M1048,403 h32 v20 h-32 l-8,-10z" fill="#fff" stroke="#44bb44"/>
<path d="M1048,475 h32 v20 h-32 l-8,-10z" fill="#fff" stroke="#44bb44"/>
<path d="M1048,582 h32 v16 h-32 l-8,-8z" fill="#fff" stroke="#44bb44"/>
<path d="M1048,628 h32 v16 h-32 l-8,-8z" fill="#fff" stroke="#44bb44"/>
<path d="M1048,770 h32 v20 h-32 l-8,-10z" fill="#fff" stroke="#e04040"/>
<path d="M1048,832 h32 v24 h-32 l-8,-12z" fill="#fff" stroke="#44bb44"/>
<path d="M1048,934 h36 v12 h-36 l-8,-6z" fill="#fff" stroke="#44bb44"/>
<path d="M1048,1038 h36 v20 h-36 l-8,-10z" fill="#fff" stroke="#44bb44"/>
<path d="M1048,1106 h32 v22 h-32 l-8,-11z" fill="#fff" stroke="#e04040"/>
<path d="M1048,1168 h36 v24 h-36 l-8,-12z" fill="#fff" stroke="#e04040"/>
</g>

<!-- regulation markers -->
<g id="markers">
<circle class="gm" cx="86" cy="182" r="4"/><circle class="gm" cx="90" cy="243" r="4"/><circle class="gm" cx="638" cy="72" r="4"/>
<circle class="gm" cx="545" cy="100" r="4"/><circle class="gm" cx="898" cy="103" r="4"/><circle class="gm" cx="954" cy="140" r="4"/>
<circle class="gm" cx="565" cy="252" r="4"/><circle class="gm" cx="488" cy="390" r="4"/><circle class="gm" cx="494" cy="500" r="4"/>
<circle class="gm" cx="940" cy="292" r="4"/><circle class="gm" cx="830" cy="442" r="4"/><circle class="gm" cx="932" cy="425" r="4"/>
<circle class="gm" cx="918" cy="480" r="4"/><circle class="gm" cx="562" cy="722" r="4"/><circle class="gm" cx="447" cy="712" r="4"/>
<circle class="gm" cx="940" cy="596" r="4"/><circle class="gm" cx="882" cy="620" r="4"/><circle class="gm" cx="636" cy="950" r="4"/>
<circle class="gm" cx="962" cy="1150" r="4"/><circle class="gm" cx="975" cy="1050" r="4"/><circle class="gm" cx="354" cy="303" r="4"/>
<circle class="gm" cx="472" cy="326" r="4"/><circle class="gm" cx="352" cy="316" r="4"/><circle class="gm" cx="770" cy="618" r="4"/>
<circle class="gm" cx="560" cy="645" r="4"/><circle class="gm" cx="230" cy="660" r="4"/><circle class="gm" cx="706" cy="128" r="4"/>
<circle class="rm" cx="125" cy="97" r="4"/><circle class="rm" cx="196" cy="798" r="4"/><circle class="rm" cx="345" cy="372" r="4"/>
<circle class="rm" cx="162" cy="455" r="4"/><circle class="rm" cx="200" cy="500" r="3"/>
</g>
</svg>
